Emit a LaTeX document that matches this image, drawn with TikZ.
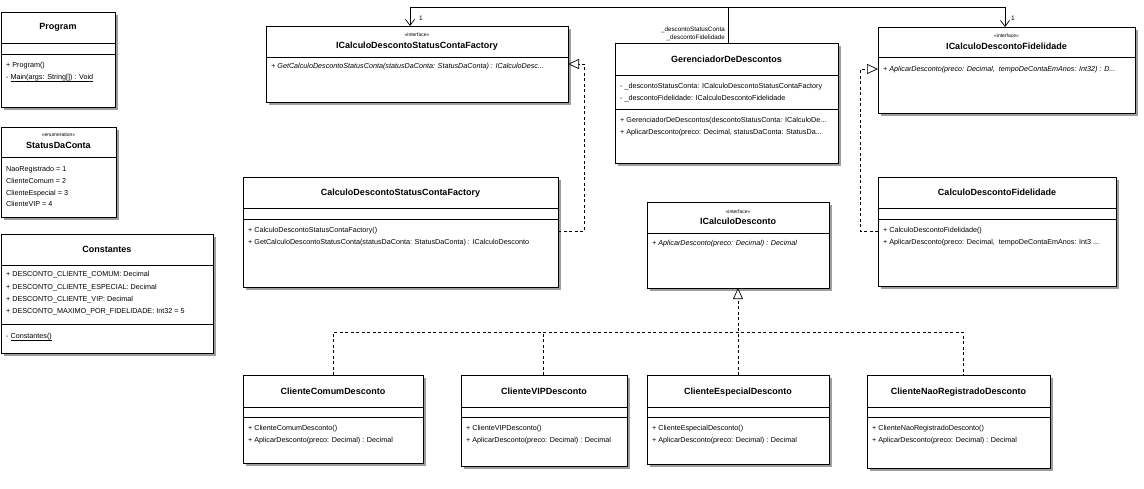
\documentclass[tikz,border=0pt]{standalone}
\usepackage{fontspec}
\setmainfont{Liberation Sans}
\usetikzlibrary{arrows.meta,calc,shadows}
\tikzset{
  ubox/.style={draw=black,line width=0.8pt,fill=white,anchor=north west,inner sep=0pt,outer sep=0pt,
    drop shadow={shadow xshift=2.5pt,shadow yshift=-2.5pt,fill=black!38,opacity=1}},
  sepline/.style={draw=black,line width=0.8pt},
  rowtext/.style={anchor=west,inner sep=0pt,text height=5.2pt,text depth=1.4pt,font=\fontsize{7.2}{8}\selectfont},
  titletext/.style={anchor=center,inner sep=0pt,text height=6.5pt,text depth=1.8pt,font=\fontsize{9}{10}\selectfont\bfseries},
  stereotext/.style={anchor=center,inner sep=0pt,font=\fontsize{5}{6}\selectfont},
  conn/.style={draw=black,line width=0.7pt},
  assoc/.style={conn,-{Straight Barb[length=6pt,width=9pt,line width=0.7pt]}},
  realiz/.style={conn,dash pattern=on 3pt off 2.5pt,-{Triangle[open,length=11pt,width=10pt,line width=0.7pt,fill=white]}},
  dline/.style={conn,dash pattern=on 3pt off 2.5pt},
}
\newcommand\Ubox[5]{\node[ubox,minimum width=#4pt,minimum height=#5pt] (#1) at (#2,#3) {};}
\newcommand\Usep[2]{\draw[sepline] ($(#1.north west)+(0,#2)$) -- ($(#1.north east)+(0,#2)$);}
\newcommand\Urow[3]{\node[rowtext] (#1-r#2) at ($(#1.north west)+(5,#2)$) {#3};}
\newcommand\Utitle[3]{\node[titletext] (#1-t) at ($(#1.north)+(0,#2)$) {#3};}
\newcommand\Ustereo[3]{\node[stereotext] (#1-s) at ($(#1.north)+(0,#2)$) {#3};}
\newcommand\Ustatic[1]{\underline{\smash{#1}}}
\begin{document}
\begin{tikzpicture}[x=1pt,y=-1pt]
\useasboundingbox[fill=white] (0,0) rectangle (1144,488);

% Program
\Ubox{program}{1}{12}{114}{95}
\Utitle{program}{15}{Program}
\Usep{program}{31}\Usep{program}{42}
\Urow{program}{54}{+ Program()}
\Urow{program}{66}{- \Ustatic{Main(args: String[]) : Void}}

% StatusDaConta
\Ubox{status}{1}{127}{115}{90}
\Ustereo{status}{8}{«enumeration»}
\Utitle{status}{19}{StatusDaConta}
\Usep{status}{30}
\Urow{status}{43}{NaoRegistrado = 1}
\Urow{status}{55}{ClienteComum = 2}
\Urow{status}{67}{ClienteEspecial = 3}
\Urow{status}{78}{ClienteVIP = 4}

% Constantes
\Ubox{const}{1}{234}{212}{119}
\Utitle{const}{16}{Constantes}
\Usep{const}{31}
\Urow{const}{41}{+ DESCONTO\_CLIENTE\_COMUM: Decimal}
\Urow{const}{54}{+ DESCONTO\_CLIENTE\_ESPECIAL: Decimal}
\Urow{const}{66}{+ DESCONTO\_CLIENTE\_VIP: Decimal}
\Urow{const}{78}{+ DESCONTO\_MAXIMO\_POR\_FIDELIDADE: Int32 = 5}
\Usep{const}{90}
\Urow{const}{103}{- \Ustatic{Constantes()}}

% ICalculoDescontoStatusContaFactory
\Ubox{ifactory}{266}{26}{302}{76}
\Ustereo{ifactory}{9}{«interface»}
\Utitle{ifactory}{20}{ICalculoDescontoStatusContaFactory}
\Usep{ifactory}{31}
\Urow{ifactory}{41}{\itshape + GetCalculoDescontoStatusConta(statusDaConta: StatusDaConta) : ICalculoDesc...}

% GerenciadorDeDescontos
\Ubox{gerenc}{615}{43}{223}{120}
\Utitle{gerenc}{17}{GerenciadorDeDescontos}
\Usep{gerenc}{32}
\Urow{gerenc}{44}{- \_descontoStatusConta: ICalculoDescontoStatusContaFactory}
\Urow{gerenc}{56}{- \_descontoFidelidade: ICalculoDescontoFidelidade}
\Usep{gerenc}{66}
\Urow{gerenc}{78}{+ GerenciadorDeDescontos(descontoStatusConta: ICalculoDe...}
\Urow{gerenc}{90}{+ AplicarDesconto(preco: Decimal, statusDaConta: StatusDa...}

% ICalculoDescontoFidelidade
\Ubox{ifidel}{878}{27}{257}{86}
\Ustereo{ifidel}{9}{«interface»}
\Utitle{ifidel}{20}{ICalculoDescontoFidelidade}
\Usep{ifidel}{30}
\Urow{ifidel}{43}{\itshape + AplicarDesconto(preco: Decimal,\ \ tempoDeContaEmAnos: Int32) : D...}

% CalculoDescontoStatusContaFactory
\Ubox{factory}{243}{177}{315}{110}
\Utitle{factory}{16}{CalculoDescontoStatusContaFactory}
\Usep{factory}{31}\Usep{factory}{42}
\Urow{factory}{54}{+ CalculoDescontoStatusContaFactory()}
\Urow{factory}{66}{+ GetCalculoDescontoStatusConta(statusDaConta: StatusDaConta) : ICalculoDesconto}

% ICalculoDesconto
\Ubox{icalc}{647}{202}{182}{86}
\Ustereo{icalc}{10}{«interface»}
\Utitle{icalc}{20}{ICalculoDesconto}
\Usep{icalc}{31}
\Urow{icalc}{42}{\itshape + AplicarDesconto(preco: Decimal) : Decimal}

% CalculoDescontoFidelidade
\Ubox{fidel}{878}{177}{238}{109}
\Utitle{fidel}{16}{CalculoDescontoFidelidade}
\Usep{fidel}{31}\Usep{fidel}{42}
\Urow{fidel}{54}{+ CalculoDescontoFidelidade()}
\Urow{fidel}{66}{+ AplicarDesconto(preco: Decimal,\ \ tempoDeContaEmAnos: Int3 ...}

% Clientes
\Ubox{comum}{243}{375}{180}{88}
\Utitle{comum}{17}{ClienteComumDesconto}
\Usep{comum}{32}\Usep{comum}{42}
\Urow{comum}{54}{+ ClienteComumDesconto()}
\Urow{comum}{66}{+ AplicarDesconto(preco: Decimal) : Decimal}

\Ubox{vip}{461}{375}{166}{91}
\Utitle{vip}{17}{ClienteVIPDesconto}
\Usep{vip}{32}\Usep{vip}{42}
\Urow{vip}{54}{+ ClienteVIPDesconto()}
\Urow{vip}{66}{+ AplicarDesconto(preco: Decimal) : Decimal}

\Ubox{especial}{647}{375}{182}{89}
\Utitle{especial}{17}{ClienteEspecialDesconto}
\Usep{especial}{32}\Usep{especial}{42}
\Urow{especial}{54}{+ ClienteEspecialDesconto()}
\Urow{especial}{66}{+ AplicarDesconto(preco: Decimal) : Decimal}

\Ubox{naoreg}{867}{375}{183}{93}
\Utitle{naoreg}{17}{ClienteNaoRegistradoDesconto}
\Usep{naoreg}{32}\Usep{naoreg}{42}
\Urow{naoreg}{54}{+ ClienteNaoRegistradoDesconto()}
\Urow{naoreg}{66}{+ AplicarDesconto(preco: Decimal) : Decimal}

% connectors: associations
\coordinate (top1) at (410,7);
\coordinate (top2) at (728,7);
\coordinate (top3) at (1005,7);
\draw[assoc] (gerenc.north -| top2) -- (top2) -- (top1) -- (ifactory.north -| top1);
\draw[assoc] (gerenc.north -| top2) -- (top2) -- (top3) -- (ifidel.north -| top3);
\node[rowtext,font=\fontsize{6.5}{7}\selectfont] (m1) at (419,19) {1};
\node[rowtext,font=\fontsize{6.5}{7}\selectfont] (m2) at (1011,19) {1};
\node[rowtext,anchor=east,font=\fontsize{6.3}{7}\selectfont] (rolea) at (725,30) {\_descontoStatusConta};
\node[rowtext,anchor=east,font=\fontsize{6.3}{7}\selectfont] (roleb) at (725,38) {\_descontoFidelidade};

% realizations
\coordinate (rf1) at (584,64);
\coordinate (rf2) at (584,231);
\draw[realiz] (factory.east |- rf2) -- (rf2) -- (rf1) -- (ifactory.east |- rf1);
\coordinate (rd1) at (860,69);
\coordinate (rd2) at (860,231);
\draw[realiz] (fidel.west |- rd2) -- (rd2) -- (rd1) -- (ifidel.west |- rd1);

\coordinate (b1) at (333,332);
\coordinate (b2) at (543,332);
\coordinate (bus) at (738,332);
\coordinate (b4) at (963,332);
\draw[realiz] (especial.north -| bus) -- (bus) -- (icalc.south -| bus);
\draw[dline] (comum.north -| b1) -- (b1) -- (b4) -- (naoreg.north -| b4);
\draw[dline] (vip.north -| b2) -- (b2);
\end{tikzpicture}
\end{document}
